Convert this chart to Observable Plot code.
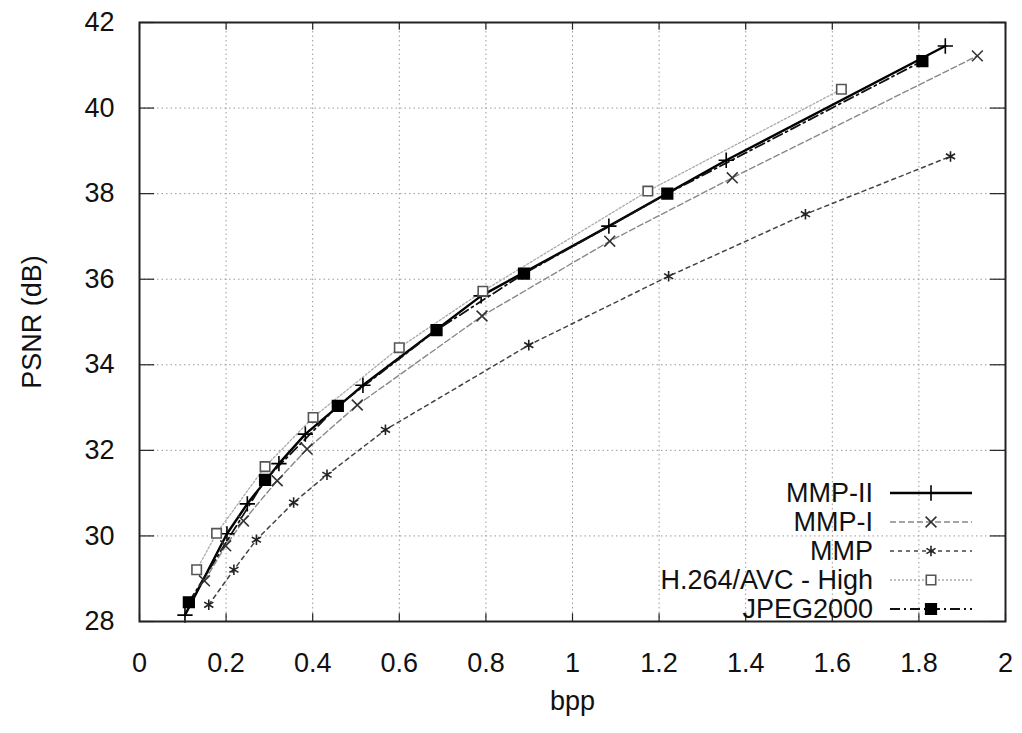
<!DOCTYPE html>
<html>
<head>
<meta charset="utf-8">
<script src="https://cdn.jsdelivr.net/npm/d3@7"></script>
<script src="https://cdn.jsdelivr.net/npm/@observablehq/plot@0.6"></script>
<style>
  html, body { margin: 0; padding: 0; background: #fff; }
  #chart svg { display: block; }
</style>
</head>
<body>
<div id="chart"></div>
<script>
// ---- data ----
const seriesNames = ["MMP-II", "MMP-I", "MMP", "H.264/AVC - High", "JPEG2000"];

const bppMMP2  = [0.105, 0.202, 0.249, 0.322, 0.383, 0.516, 0.789, 1.084, 1.355, 1.861];
const psnrMMP2 = [28.15, 30.05, 30.75, 31.69, 32.38, 33.52, 35.61, 37.24, 38.78, 41.45];

const bppMMP1  = [0.150, 0.199, 0.240, 0.318, 0.387, 0.503, 0.791, 1.086, 1.369, 1.935];
const psnrMMP1 = [28.95, 29.77, 30.35, 31.29, 32.03, 33.06, 35.14, 36.89, 38.37, 41.22];

const bppMMP   = [0.160, 0.218, 0.270, 0.356, 0.433, 0.568, 0.899, 1.222, 1.538, 1.873];
const psnrMMP  = [28.39, 29.21, 29.91, 30.78, 31.43, 32.48, 34.46, 36.07, 37.52, 38.87];

const bppH264  = [0.132, 0.178, 0.290, 0.401, 0.600, 0.793, 1.174, 1.621];
const psnrH264 = [29.21, 30.06, 31.62, 32.77, 34.40, 35.72, 38.06, 40.44];

const bppJ2K   = [0.114, 0.290, 0.458, 0.686, 0.888, 1.219, 1.808];
const psnrJ2K  = [28.45, 31.31, 33.04, 34.81, 36.13, 38.00, 41.10];

const xTicks = [0, 0.2, 0.4, 0.6, 0.8, 1, 1.2, 1.4, 1.6, 1.8, 2];
const xTickLabels = ["0", "0.2", "0.4", "0.6", "0.8", "1", "1.2", "1.4", "1.6", "1.8", "2"];
const yTicks = [28, 30, 32, 34, 36, 38, 40, 42];

// ---- styles ----
const styles = {
  "MMP-II":           {stroke: "#000", width: 2.4, dash: null,        symbol: "plus",     fill: "none", mstroke: "#000", r: 5},
  "MMP-I":            {stroke: "#888", width: 1.4, dash: "6,3",       symbol: "times",    fill: "none", mstroke: "#333", r: 5},
  "MMP":              {stroke: "#444", width: 1.5, dash: "4,4",       symbol: "asterisk", fill: "none", mstroke: "#222", r: 5},
  "H.264/AVC - High": {stroke: "#aaa", width: 1.3, dash: "2,2",       symbol: "square2",  fill: "#fff", mstroke: "#555", r: 6},
  "JPEG2000":         {stroke: "#111", width: 1.8, dash: "10,4,2,4",  symbol: "square",   fill: "#000", mstroke: "#000", r: 6}
};

const raw = [
  [seriesNames[0], bppMMP2, psnrMMP2],
  [seriesNames[1], bppMMP1, psnrMMP1],
  [seriesNames[2], bppMMP, psnrMMP],
  [seriesNames[3], bppH264, psnrH264],
  [seriesNames[4], bppJ2K, psnrJ2K]
];
const series = raw.map(([name, xs, ys]) => ({name, data: xs.map((x, i) => ({x, y: ys[i]}))}));

const W = 1022, H = 733;
const mL = 139, mR = 17, mT = 22, mB = 112;
const FONT = "'Liberation Sans', Arial, Helvetica, sans-serif";
const FS = 27;

const marks = [
  Plot.ruleX(xTicks.slice(1, -1), {stroke: "#999", strokeWidth: 1, strokeDasharray: "1.5,3"}),
  Plot.ruleY(yTicks.slice(1, -1), {stroke: "#999", strokeWidth: 1, strokeDasharray: "1.5,3"}),
  // inward ticks (bottom/top, left/right)
  Plot.ruleX(xTicks, {y1: 28, y2: 28.18, stroke: "#222", strokeWidth: 1.2}),
  Plot.ruleX(xTicks, {y1: 42, y2: 41.82, stroke: "#222", strokeWidth: 1.2}),
  Plot.ruleY(yTicks, {x1: 0, x2: 0.035, stroke: "#222", strokeWidth: 1.2}),
  Plot.ruleY(yTicks, {x1: 2, x2: 1.965, stroke: "#222", strokeWidth: 1.2})
];

for (const s of series) {
  const st = styles[s.name];
  marks.push(Plot.line(s.data, {x: "x", y: "y", stroke: st.stroke, strokeWidth: st.width,
    strokeDasharray: st.dash, curve: "linear"}));
}
for (const s of series) {
  const st = styles[s.name];
  marks.push(Plot.dot(s.data, {x: "x", y: "y", symbol: st.symbol, r: st.r, fill: st.fill,
    stroke: st.mstroke, strokeWidth: 1.6}));
}
marks.push(Plot.frame({stroke: "#222", strokeWidth: 2}));

const plot = Plot.plot({
  width: W, height: H,
  marginLeft: mL, marginRight: mR, marginTop: mT, marginBottom: mB,
  style: {fontFamily: FONT, fontSize: FS + "px", color: "#111", background: "#fff"},
  x: {domain: [0, 2], ticks: xTicks, tickFormat: (d) => xTickLabels[xTicks.indexOf(d)],
      tickSize: 0, tickPadding: 31, label: "bpp", labelArrow: "none", labelAnchor: "center", labelOffset: 88},
  y: {domain: [28, 42], ticks: yTicks, tickSize: 0, tickPadding: 25,
      label: "PSNR (dB)", labelArrow: "none", labelAnchor: "center", labelOffset: 118},
  symbol: {type: "identity"},
  marks
});

document.getElementById("chart").appendChild(plot);

// ---- legend (inside plot, bottom right) ----
const svg = d3.select(plot);
const frameR = W - mR, frameB = H - mB;
const leg = svg.append("g").attr("font-family", FONT).attr("font-size", FS).attr("fill", "#111");
const symMap = {plus: d3.symbolPlus, times: d3.symbolTimes, asterisk: d3.symbolAsterisk, square2: d3.symbolSquare2, square: d3.symbolSquare};
series.forEach((s, i) => {
  const st = styles[s.name];
  const y = frameB - 128 + i * 29;
  leg.append("text").attr("x", frameR - 132).attr("y", y).attr("dy", "0.35em")
    .attr("text-anchor", "end").text(s.name);
  leg.append("line").attr("x1", frameR - 115).attr("x2", frameR - 33).attr("y1", y).attr("y2", y)
    .attr("stroke", st.stroke).attr("stroke-width", st.width)
    .attr("stroke-dasharray", st.dash);
  leg.append("path").attr("transform", `translate(${frameR - 74},${y})`)
    .attr("d", d3.symbol(symMap[st.symbol], Math.PI * st.r * st.r)())
    .attr("fill", st.fill).attr("stroke", st.mstroke).attr("stroke-width", 1.6);
});
</script>
</body>
</html>
